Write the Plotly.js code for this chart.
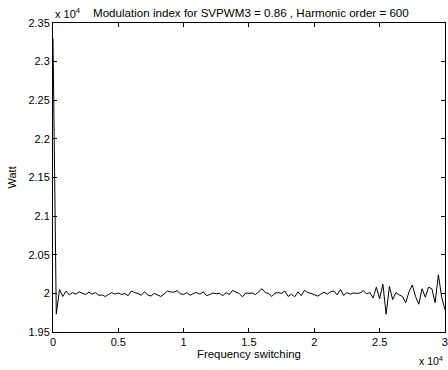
<!DOCTYPE html>
<html>
<head>
<meta charset="utf-8">
<script src="https://cdn.plot.ly/plotly-3.0.1.min.js"></script>
<style>html,body{margin:0;padding:0;background:#fff;}#chart{width:448px;height:370px;}</style>
</head>
<body>
<div id="chart"></div>
<script>
// Frequency switching (Hz), step 250
const freqStep = 250;
const power = [
23300,19730,20050,19960,20030,19980,20010,19990,20020,20000,
19985,20015,19990,20010,19975,19980,19960,19985,20010,19990,
20005,19985,20000,19970,20030,20010,20000,19975,20020,19980,
19965,20000,19980,19960,19990,20030,20020,20015,20035,19995,
19985,20010,19975,20000,20010,19990,20020,19970,19985,20005,
19995,20000,19970,20010,19985,20040,20015,20000,19955,20005,
20000,20005,19985,20020,20060,20010,20000,19960,20005,20010,
20000,20030,19960,19990,19955,20020,19970,20040,20010,20000,
19985,19965,19990,20015,19990,20020,20030,19980,20050,19975,
20010,19990,20005,20000,20005,20035,19995,20010,19940,20080,
19930,20120,19730,20090,19920,20010,19980,19960,19880,20020,
20110,19960,19860,20060,19950,20080,20060,19880,20240,19950,
19790
];
const freq = power.map((_, i) => i * freqStep);

const xTickVals = [0, 5000, 10000, 15000, 20000, 25000, 30000];
const xTickText = ["0", "0.5", "1", "1.5", "2", "2.5", "3"];
const yTickVals = [19500, 20000, 20500, 21000, 21500, 22000, 22500, 23000, 23500];
const yTickText = ["1.95", "2", "2.05", "2.1", "2.15", "2.2", "2.25", "2.3", "2.35"];

const FONT = "Liberation Sans, Arial, Helvetica, sans-serif";
const TXT = {family: FONT, size: 11, color: '#000'};

const trace = {
  x: freq, y: power, type: 'scatter', mode: 'lines',
  line: {color: '#000000', width: 1}, hoverinfo: 'skip', cliponaxis: false
};

const axisCommon = {
  showline: true, linecolor: '#000', linewidth: 1, mirror: 'ticks',
  ticks: 'inside', ticklen: 4, tickwidth: 1, tickcolor: '#000',
  showgrid: false, zeroline: false, automargin: false,
  tickfont: TXT
};

const layout = {
  width: 448, height: 370,
  margin: {l: 53, r: 3, t: 23, b: 38},
  paper_bgcolor: '#fff', plot_bgcolor: '#fff',
  showlegend: false,
  font: TXT,
  xaxis: Object.assign({}, axisCommon, {
    range: [0, 30005], tickvals: xTickVals, ticktext: xTickText
  }),
  yaxis: Object.assign({}, axisCommon, {
    range: [19500, 23500], tickvals: yTickVals, ticktext: yTickText
  }),
  annotations: [
    {xref: 'paper', yref: 'paper', x: 0, y: 1, xanchor: 'left', yanchor: 'bottom', yshift: 1,
     text: 'x 10<sup>4</sup>', showarrow: false, font: TXT},
    {xref: 'paper', yref: 'paper', x: 0.505, y: 1, xanchor: 'center', yanchor: 'bottom', yshift: 2,
     text: 'Modulation index for SVPWM3 = 0.86 , Harmonic order = 600',
     showarrow: false, font: {family: FONT, size: 11.6, color: '#000'}},
    {xref: 'paper', yref: 'paper', x: 0.5, y: 0, xanchor: 'center', yanchor: 'top', yshift: -14,
     text: 'Frequency switching', showarrow: false, font: {family: FONT, size: 11.4, color: '#000'}},
    {xref: 'paper', yref: 'paper', x: 0, y: 0.5, xanchor: 'right', yanchor: 'middle', xshift: -34,
     text: 'Watt', textangle: -90, showarrow: false, font: TXT},
    {xref: 'paper', yref: 'paper', x: 1, y: 0, xanchor: 'right', yanchor: 'top', yshift: -20,
     text: 'x 10<sup>4</sup>', showarrow: false, font: {family: FONT, size: 10.5, color: '#000'}}
  ]
};

Plotly.newPlot('chart', [trace], layout, {staticPlot: true, displayModeBar: false});
</script>
</body>
</html>
